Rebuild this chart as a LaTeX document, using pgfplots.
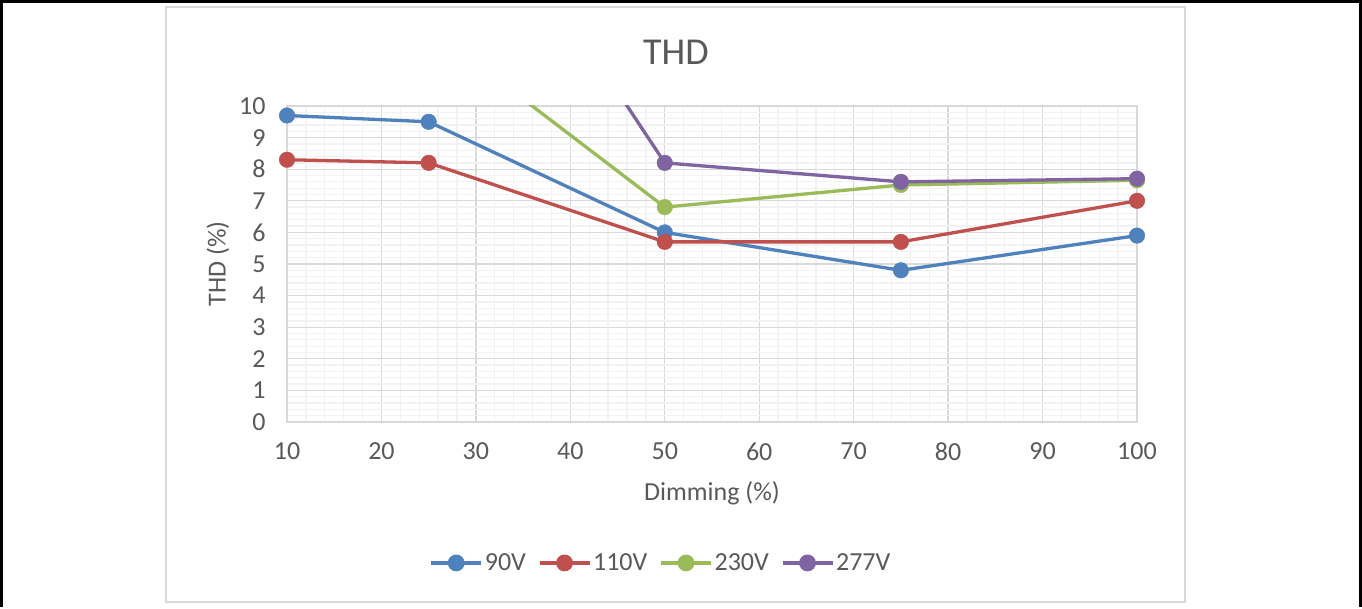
\documentclass[border=0pt]{standalone}
\usepackage{fontspec}
\setmainfont{Carlito}
\usepackage{pgfplots}
\usepackage{pgfplotstable}
\pgfplotsset{compat=1.18}
\definecolor{s1}{HTML}{4F81BD}
\definecolor{s2}{HTML}{C0504D}
\definecolor{s3}{HTML}{9BBB59}
\definecolor{s4}{HTML}{8064A2}
\definecolor{txt}{HTML}{595959}
\definecolor{gmaj}{HTML}{D9D9D9}
\definecolor{gmin}{HTML}{F2F2F2}
\pgfplotstableread{
x y
10 9.7
25 9.5
50 6.0
75 4.8
100 5.9
}\tA
\pgfplotstableread{
x y
10 8.3
25 8.2
50 5.7
75 5.7
100 7.0
}\tB
\pgfplotstableread{
x y
10 13.2
25 12.5
50 6.8
75 7.5
100 7.65
}\tC
\pgfplotstableread{
x y
10 21.0
25 19.5
50 8.2
75 7.6
100 7.7
}\tD
\begin{document}
\begin{tikzpicture}[x=1pt,y=1pt]
\fill[white] (0,0) rectangle (1362,607);
\draw[black, line width=3pt] (1.5,0) -- (1.5,605.5) -- (1360.5,605.5) -- (1360.5,0);
\draw[gmaj, line width=1.5pt] (166,5) rectangle (1185,600);
\node[txt, font=\fontsize{38}{44}\selectfont] at (676,555) {THD};
\node[txt, font=\fontsize{26}{31}\selectfont] at (712,114) {Dimming (\%)};
\node[txt, font=\fontsize{26}{31}\selectfont, rotate=90] at (218,343) {THD (\%)};
\begin{axis}[
  at={(287pt,185pt)}, anchor=south west, scale only axis,
  width=850pt, height=316pt,
  xmin=10, xmax=100, ymin=0, ymax=10,
  xtick={10,20,...,100}, ytick={0,1,...,10},
  minor x tick num=4, minor y tick num=4,
  grid=both,
  major grid style={draw=gmaj, line width=1.3pt},
  minor grid style={draw=gmin, line width=1.3pt},
  axis line style={draw=gmaj, line width=1.5pt},
  major tick style={draw=none}, minor tick style={draw=none},
  ticklabel style={font=\fontsize{26}{31}\selectfont, text=txt},
  /pgf/number format/assume math mode=true,
  xticklabel style={yshift=-17pt},
  yticklabel style={xshift=-18pt},
  legend columns=4,
  legend style={at={(0.44,-0.446)}, anchor=center, draw=none, fill=none,
    font=\fontsize{26}{31}\selectfont, text=txt,
    /tikz/every even column/.append style={column sep=10pt}},
  legend image code/.code={\draw[mark repeat=2,mark phase=2,#1] plot coordinates {(0pt,0pt) (25pt,0pt) (50pt,0pt)};},
  lin/.style={line width=3.3pt, mark=none, forget plot},
  mk/.style={only marks, mark=*, mark size=7.8pt, restrict y to domain=0:10, forget plot},
]
\addlegendimage{s1, line width=3.2pt, mark=*, mark size=6.8pt, mark options={fill=s1}}
\addlegendentry{90V}
\addlegendimage{s2, line width=3.2pt, mark=*, mark size=6.8pt, mark options={fill=s2}}
\addlegendentry{110V}
\addlegendimage{s3, line width=3.2pt, mark=*, mark size=6.8pt, mark options={fill=s3}}
\addlegendentry{230V}
\addlegendimage{s4, line width=3.2pt, mark=*, mark size=6.8pt, mark options={fill=s4}}
\addlegendentry{277V}
\addplot[s1, lin] table[x=x,y=y] {\tA};
\addplot[s1, mk, mark options={fill=s1, draw=s1}] table[x=x,y=y] {\tA};
\addplot[s2, lin] table[x=x,y=y] {\tB};
\addplot[s2, mk, mark options={fill=s2, draw=s2}] table[x=x,y=y] {\tB};
\addplot[s3, lin] table[x=x,y=y] {\tC};
\addplot[s3, mk, mark options={fill=s3, draw=s3}] table[x=x,y=y] {\tC};
\addplot[s4, lin] table[x=x,y=y] {\tD};
\addplot[s4, mk, mark options={fill=s4, draw=s4}] table[x=x,y=y] {\tD};
\end{axis}
\end{tikzpicture}
\end{document}
